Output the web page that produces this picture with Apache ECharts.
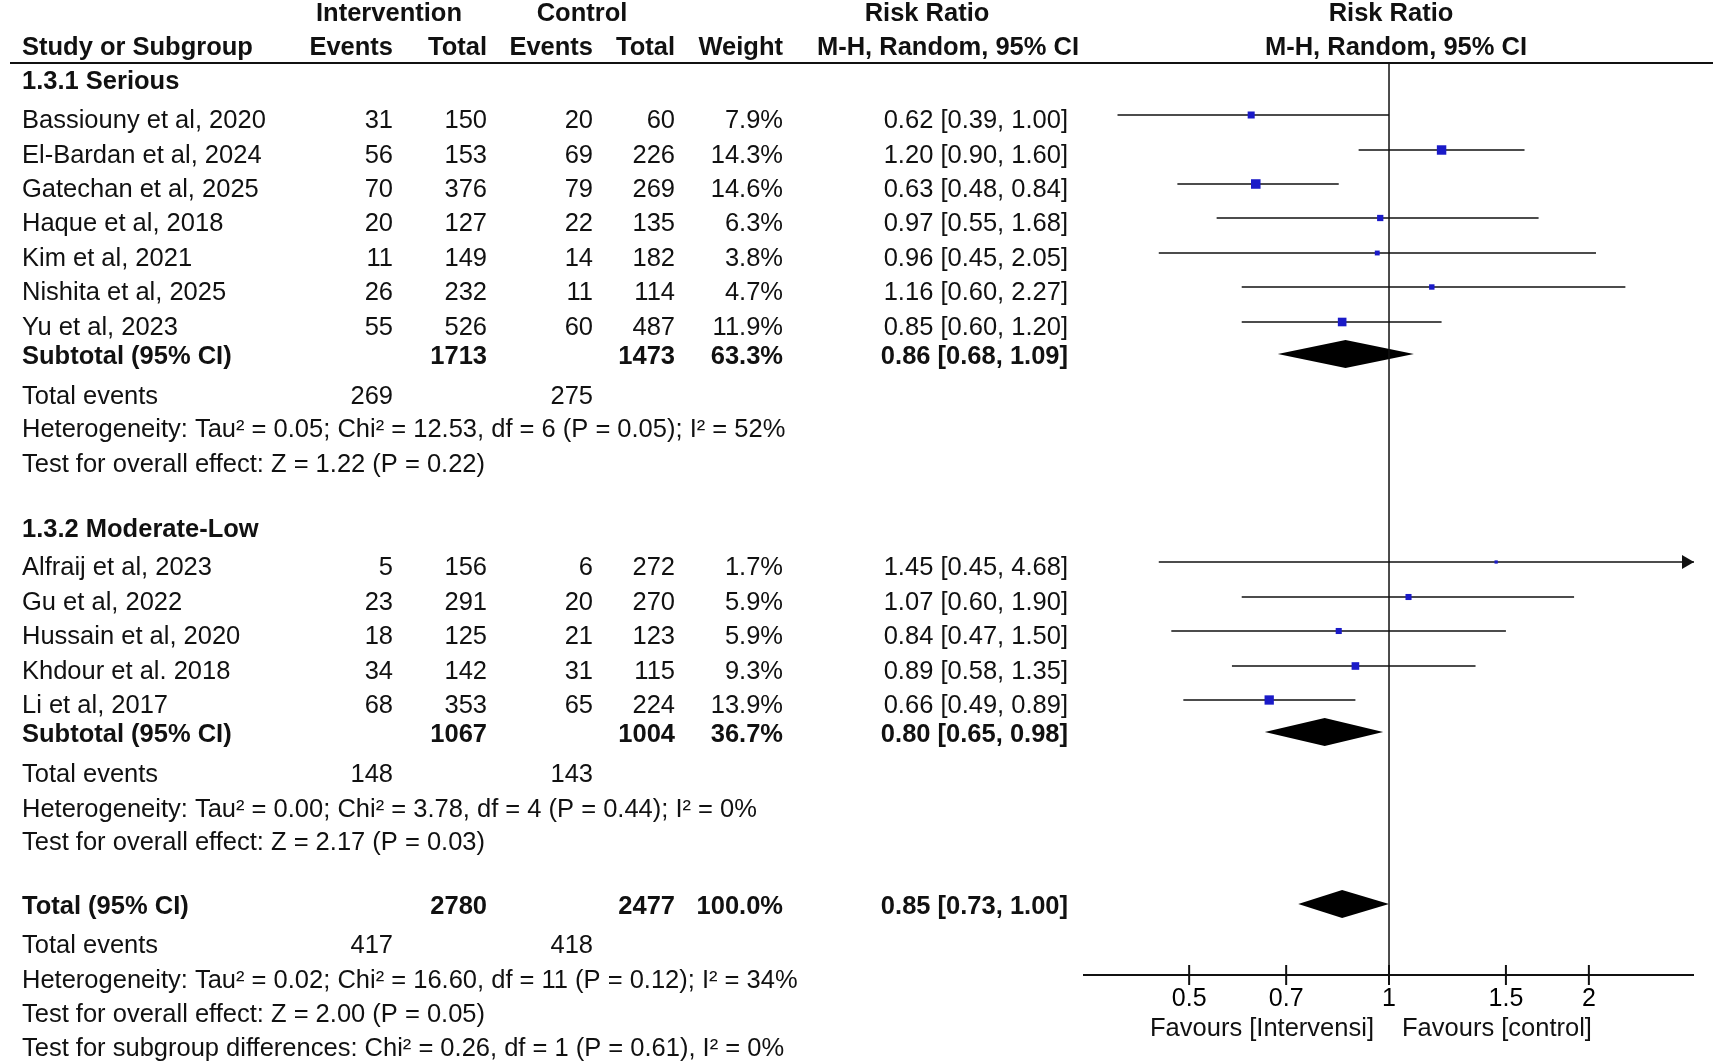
<!DOCTYPE html>
<html><head><meta charset="utf-8">
<script src="https://cdn.jsdelivr.net/npm/echarts@6/dist/echarts.min.js"></script>
<style>html,body{margin:0;background:#fff}#c{width:1713px;height:1061px}</style>
</head><body><div id="c"></div>
<script>
// study rows
var studies = ['Bassiouny et al, 2020','El-Bardan et al, 2024','Gatechan et al, 2025','Haque et al, 2018','Kim et al, 2021','Nishita et al, 2025','Yu et al, 2023',
  'Alfraij et al, 2023','Gu et al, 2022','Hussain et al, 2020','Khdour et al. 2018','Li et al, 2017'];
var intEvents = [31,56,70,20,11,26,55, 5,23,18,34,68];
var intTotal = [150,153,376,127,149,232,526, 156,291,125,142,353];
var ctrlEvents = [20,69,79,22,14,11,60, 6,20,21,31,65];
var ctrlTotal = [60,226,269,135,182,114,487, 272,270,123,115,224];
var weight = [7.9,14.3,14.6,6.3,3.8,4.7,11.9, 1.7,5.9,5.9,9.3,13.9];
var rr = [0.62,1.20,0.63,0.97,0.96,1.16,0.85, 1.45,1.07,0.84,0.89,0.66];
var lo = [0.39,0.90,0.48,0.55,0.45,0.60,0.60, 0.45,0.60,0.47,0.58,0.49];
var hi = [1.00,1.60,0.84,1.68,2.05,2.27,1.20, 4.68,1.90,1.50,1.35,0.89];
// subtotals / overall
var pooledNames = ['Subtotal (95% CI)','Subtotal (95% CI)','Total (95% CI)'];
var pooledInt = [1713,1067,2780];
var pooledCtrl = [1473,1004,2477];
var pooledWeight = ['63.3%','36.7%','100.0%'];
var pooledRR = [0.86,0.80,0.85];
var pooledLo = [0.68,0.65,0.73];
var pooledHi = [1.09,0.98,1.00];
var totEvInt = [269,148,417];
var totEvCtrl = [275,143,418];
var hetText = ['Heterogeneity: Tau² = 0.05; Chi² = 12.53, df = 6 (P = 0.05); I² = 52%',
  'Heterogeneity: Tau² = 0.00; Chi² = 3.78, df = 4 (P = 0.44); I² = 0%',
  'Heterogeneity: Tau² = 0.02; Chi² = 16.60, df = 11 (P = 0.12); I² = 34%'];
var testText = ['Test for overall effect: Z = 1.22 (P = 0.22)','Test for overall effect: Z = 2.17 (P = 0.03)','Test for overall effect: Z = 2.00 (P = 0.05)'];
var subgroupTest = 'Test for subgroup differences: Chi² = 0.26, df = 1 (P = 0.61), I² = 0%';
var groupNames = ['1.3.1 Serious','1.3.2 Moderate-Low'];
var ticks = [0.5,0.7,1,1.5,2];
var xMin = 0.346, xMax = 2.88;

// layout (row y positions in px)
var studyY = [121,156,190,224,259,293,328, 568,603,637,672,706];
var pooledY = [357,735,907];
var totEvY = [397,775,946];
var hetY = [430,810,981];
var testY = [465,843,1015];
var groupY = [82,530];
var axisY = 975;
var FONT = '"Liberation Sans", Arial, sans-serif';
var C = {study:22, ie:393, it:487, ce:593, ct:675, w:783, rr:1068};

var g = [];
function t(x, y, s, align, bold){
  g.push({type:'text', x:x, y:y, silent:true, style:{text:String(s), x:0, y:0, textAlign:align||'left', textVerticalAlign:'middle',
    font:(bold?'bold ':'')+'25.5px '+FONT, fill:'#111'}});
}
function ci(a,b,c){ return a.toFixed(2)+' ['+b.toFixed(2)+', '+c.toFixed(2)+']'; }
t(389,14,'Intervention','center',true); t(582,14,'Control','center',true);
t(927,14,'Risk Ratio','center',true); t(1391,14,'Risk Ratio','center',true);
t(22,48,'Study or Subgroup','left',true); t(C.ie,48,'Events','right',true); t(C.it,48,'Total','right',true);
t(C.ce,48,'Events','right',true); t(C.ct,48,'Total','right',true); t(C.w,48,'Weight','right',true);
t(948,48,'M-H, Random, 95% CI','center',true); t(1396,48,'M-H, Random, 95% CI','center',true);
g.push({type:'line', shape:{x1:10,y1:63,x2:1713,y2:63}, style:{stroke:'#111',lineWidth:2}});
groupNames.forEach(function(n,i){ t(C.study,groupY[i],n,'left',true); });
studies.forEach(function(n,i){
  var y = studyY[i];
  t(C.study,y,n); t(C.ie,y,intEvents[i],'right'); t(C.it,y,intTotal[i],'right');
  t(C.ce,y,ctrlEvents[i],'right'); t(C.ct,y,ctrlTotal[i],'right');
  t(C.w,y,weight[i].toFixed(1)+'%','right'); t(C.rr,y,ci(rr[i],lo[i],hi[i]),'right');
});
pooledNames.forEach(function(n,i){
  var y = pooledY[i];
  t(C.study,y,n,'left',true); t(C.it,y,pooledInt[i],'right',true); t(C.ct,y,pooledCtrl[i],'right',true);
  t(C.w,y,pooledWeight[i],'right',true); t(C.rr,y,ci(pooledRR[i],pooledLo[i],pooledHi[i]),'right',true);
  t(C.study,totEvY[i],'Total events'); t(C.ie,totEvY[i],totEvInt[i],'right'); t(C.ce,totEvY[i],totEvCtrl[i],'right');
  t(C.study,hetY[i],hetText[i]); t(C.study,testY[i],testText[i]);
});
t(C.study,1049,subgroupTest);
t(1262,1029,'Favours [Intervensi]','center'); t(1497,1029,'Favours [control]','center');

var chart = echarts.init(document.getElementById('c'));
var studyData = studies.map(function(n,i){ return [rr[i], lo[i], hi[i], studyY[i]-6, weight[i]]; });
var pooledData = pooledRR.map(function(v,i){ return [v, pooledLo[i], pooledHi[i], pooledY[i]-3]; });
chart.setOption({
  animation:false,
  grid:{left:1083, width:611, top:0, height:1061},
  xAxis:{type:'log', logBase:2, min:xMin, max:xMax, show:false},
  yAxis:{type:'value', min:0, max:1061, inverse:true, show:false},
  graphic:g,
  series:[
    {type:'custom', data:studyData, renderItem:function(p, api){
      var yv = api.value(3);
      var c = api.coord([api.value(0), yv]);
      var hiV = Math.min(api.value(2), xMax);
      var a = api.coord([api.value(1), yv]), b = api.coord([hiV, yv]);
      var s = Math.sqrt(api.value(4))*2.5;
      var ch = [
        {type:'line', shape:{x1:a[0],y1:a[1],x2:b[0],y2:b[1]}, style:{stroke:'#111',lineWidth:1.5}},
        {type:'rect', shape:{x:c[0]-s/2,y:c[1]-s/2,width:s,height:s}, style:{fill:'#1a1ac8'}}
      ];
      if (api.value(2) > xMax) ch.push({type:'polygon', shape:{points:[[b[0],b[1]],[b[0]-12,b[1]-7],[b[0]-12,b[1]+7]]}, style:{fill:'#111'}});
      return {type:'group', children:ch};
    }},
    {type:'custom', data:pooledData, renderItem:function(p, api){
      var yv = api.value(3);
      var c = api.coord([api.value(0), yv]), a = api.coord([api.value(1), yv]), b = api.coord([api.value(2), yv]);
      return {type:'polygon', shape:{points:[[a[0],a[1]],[c[0],c[1]-14],[b[0],b[1]],[c[0],c[1]+14]]}, style:{fill:'#000'}};
    }},
    {type:'line', data:[[1,63],[1,axisY]], symbol:'none', lineStyle:{color:'#111',width:1.5}},
    {type:'line', data:[[xMin,axisY],[xMax,axisY]], symbol:'none', lineStyle:{color:'#111',width:2}},
    {type:'scatter', data:ticks.map(function(v){ return [v, axisY]; }), symbol:'rect', symbolSize:[2,20],
      itemStyle:{color:'#111', opacity:1},
      label:{show:true, position:'bottom', distance:2, formatter:function(p){ return p.value[0]; }, fontFamily:FONT, fontSize:25, color:'#000'}}
  ]
});
</script></body></html>
